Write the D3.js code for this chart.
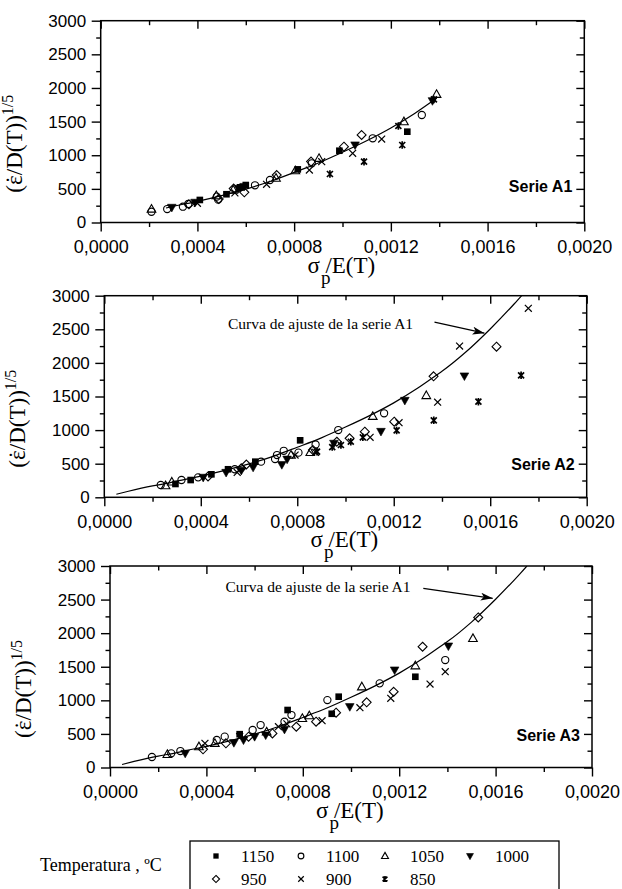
<!DOCTYPE html>
<html>
<head>
<meta charset="utf-8">
<script src="https://cdn.jsdelivr.net/npm/d3@7"></script>
<style>
  html, body { margin: 0; background: #fff; }
  svg { display: block; }
</style>
</head>
<body>
<script>
// ---- Temperatures (legend) ----
const temps = ["1150", "1100", "1050", "1000", "950", "900", "850"];

// ---- Axis ticks ----
const xMajor = [0, 0.0004, 0.0008, 0.0012, 0.0016, 0.0020];
const xMinor = [0.0002, 0.0006, 0.0010, 0.0014, 0.0018];
const yMajor = [0, 500, 1000, 1500, 2000, 2500, 3000];
const yMinor = [250, 750, 1250, 1750, 2250, 2750];
const serieLabels = ["Serie A1", "Serie A2", "Serie A3"];

// ---- Fit curve of series A1: [sigma_p/E(T), (eps/D(T))^(1/5)] ----
const fitCurve = [[0.00005, 45], [0.0001, 90], [0.0002, 170], [0.00027, 215], [0.0003, 240],
  [0.0004, 315], [0.0005, 400], [0.0006, 497], [0.0007, 610], [0.0008, 745], [0.0009, 885],
  [0.0010, 1045], [0.0011, 1215], [0.0012, 1405], [0.0013, 1625], [0.00139, 1850],
  [0.0014, 1875], [0.0015, 2165], [0.0016, 2505], [0.0017, 2880], [0.00173, 3000]];

// ---- Serie A1 ----
const A1_1150 = [[0.00041, 335], [0.00052, 420], [0.000576, 523], [0.0006, 557], [0.000815, 790], [0.000987, 1067], [0.001268, 1350]];
const A1_1100 = [[0.00021, 160], [0.000275, 200], [0.00034, 235], [0.000362, 275], [0.00048, 384], [0.000486, 340], [0.000638, 553], [0.0007, 632], [0.000873, 880], [0.001125, 1252], [0.001328, 1598]];
const A1_1050 = [[0.00021, 200], [0.000478, 400], [0.000548, 483], [0.000725, 660], [0.000805, 770], [0.000903, 954], [0.001254, 1499], [0.001389, 1906]];
const A1_1000 = [[0.000294, 225], [0.00039, 300], [0.00057, 505], [0.000593, 535], [0.001052, 1152], [0.001372, 1810]];
const A1_950 = [[0.000365, 270], [0.000488, 350], [0.00055, 505], [0.000594, 449], [0.000728, 706], [0.00087, 905], [0.001006, 1127], [0.001079, 1301]];
const A1_900 = [[0.0004, 285], [0.000555, 440], [0.000686, 568], [0.000863, 780], [0.000914, 904], [0.001042, 1029], [0.001162, 1241]];
const A1_850 = [[0.000948, 721], [0.001089, 904], [0.001231, 1435], [0.001247, 1152], [0.001378, 1830]];

// ---- Serie A2 ----
const A2_1150 = [[0.000295, 198], [0.000358, 257], [0.000444, 342], [0.000513, 417], [0.000626, 530], [0.000812, 848]];
const A2_1100 = [[0.000234, 183], [0.00032, 257], [0.000389, 297], [0.000541, 417], [0.00065, 530], [0.000708, 570], [0.000716, 629], [0.000744, 692], [0.000805, 664], [0.000876, 786], [0.00097, 1001], [0.00116, 1250]];
const A2_1050 = [[0.000254, 173], [0.00028, 228], [0.000774, 629], [0.000854, 668], [0.001113, 1205], [0.001335, 1515]];
const A2_1000 = [[0.00041, 297], [0.000505, 370], [0.000568, 400], [0.000617, 446], [0.000736, 486], [0.000758, 567], [0.000952, 803], [0.001147, 980], [0.001246, 1442], [0.001493, 1805]];
const A2_950 = [[0.00043, 310], [0.000568, 431], [0.000589, 488], [0.000865, 704], [0.000964, 827], [0.001017, 878], [0.00108, 977], [0.001202, 1125], [0.001365, 1800], [0.001626, 2241]];
const A2_900 = [[0.000551, 370], [0.000791, 629], [0.000876, 670], [0.001102, 893], [0.001222, 1110], [0.001382, 1415], [0.001473, 2251], [0.001758, 2812]];
const A2_850 = [[0.000882, 679], [0.000945, 748], [0.000981, 778], [0.001022, 827], [0.001072, 893], [0.001212, 995], [0.001366, 1145], [0.001551, 1423], [0.001728, 1815]];

// ---- Serie A3 ----
const A3_1150 = [[0.000538, 496], [0.000737, 856], [0.00092, 800], [0.000949, 1054], [0.001267, 1351]];
const A3_1100 = [[0.000174, 156], [0.000254, 211], [0.000292, 245], [0.000443, 409], [0.000476, 459], [0.000592, 558], [0.000625, 632], [0.000724, 682], [0.000753, 781], [0.000902, 1004], [0.001119, 1253], [0.001391, 1600]];
const A3_1050 = [[0.000238, 196], [0.000369, 310], [0.000435, 360], [0.00065, 530], [0.000798, 732], [0.000827, 771], [0.001045, 1202], [0.001267, 1515], [0.001506, 1922]];
const A3_1000 = [[0.000312, 211], [0.000514, 370], [0.000554, 409], [0.0006, 460], [0.000646, 483], [0.000724, 568], [0.000995, 905], [0.001181, 1451], [0.001404, 1808]];
const A3_950 = [[0.000386, 270], [0.000481, 360], [0.000575, 459], [0.000674, 508], [0.000773, 607], [0.000855, 682], [0.000938, 816], [0.001065, 970], [0.001177, 1128], [0.001297, 1798], [0.001528, 2235]];
const A3_900 = [[0.000394, 360], [0.000538, 460], [0.000699, 607], [0.000734, 650], [0.00088, 697], [0.001037, 890], [0.001165, 1030], [0.001328, 1242], [0.001391, 1426]];
const A3_850 = [];

// ---------------------------------------------------------------
const W = 622, H = 889;
const SANS = "'Liberation Sans', Arial, sans-serif";
const SERIF = "'Liberation Serif', 'Times New Roman', serif";

const svg = d3.select("body").append("svg")
  .attr("width", W).attr("height", H)
  .attr("viewBox", `0 0 ${W} ${H}`);

// marker shapes; size is the squared half-width
const shapes = {
  square: { draw(c, s) { const r = Math.sqrt(s); c.rect(-r, -r, 2 * r, 2 * r); } },
  circle: { draw(c, s) { const r = Math.sqrt(s); c.moveTo(r, 0); c.arc(0, 0, r, 0, 2 * Math.PI); } },
  triUp: { draw(c, s) { const r = Math.sqrt(s); c.moveTo(0, -r * 1.1); c.lineTo(r * 1.05, r * 0.75); c.lineTo(-r * 1.05, r * 0.75); c.closePath(); } },
  triDown: { draw(c, s) { const r = Math.sqrt(s); c.moveTo(0, r * 1.1); c.lineTo(r * 1.05, -r * 0.75); c.lineTo(-r * 1.05, -r * 0.75); c.closePath(); } },
  diamond: { draw(c, s) { const r = Math.sqrt(s); c.moveTo(0, -r); c.lineTo(r, 0); c.lineTo(0, r); c.lineTo(-r, 0); c.closePath(); } },
  cross: { draw(c, s) { const r = Math.sqrt(s); c.moveTo(-r, -r); c.lineTo(r, r); c.moveTo(-r, r); c.lineTo(r, -r); } },
  asterisk: { draw(c, s) { const r = Math.sqrt(s); const d = r * 0.8; c.moveTo(-d, -d); c.lineTo(d, d); c.moveTo(-d, d); c.lineTo(d, -d); c.moveTo(0, -r); c.lineTo(0, r); } }
};

// one style per temperature, in legend order
const styles = [
  { shape: "square", size: 11, fill: "#000", stroke: "none", sw: 0 },
  { shape: "circle", size: 13, fill: "none", stroke: "#000", sw: 1.1 },
  { shape: "triUp", size: 17, fill: "none", stroke: "#000", sw: 1.1 },
  { shape: "triDown", size: 17, fill: "#000", stroke: "#000", sw: 0.6 },
  { shape: "diamond", size: 20, fill: "none", stroke: "#000", sw: 1.1 },
  { shape: "cross", size: 12, fill: "none", stroke: "#000", sw: 1.2 },
  { shape: "asterisk", size: 14, fill: "none", stroke: "#000", sw: 1.7 }
];

function marker(g, k, cx, cy, scale) {
  const st = styles[k];
  g.append("path")
    .attr("d", d3.symbol().type(shapes[st.shape]).size(st.size * scale * scale)())
    .attr("transform", `translate(${cx},${cy})`)
    .attr("fill", st.fill)
    .attr("stroke", st.stroke)
    .attr("stroke-width", st.sw);
}

const fmtX = d => d3.format(".4f")(d).replace(".", ",");

const panels = [
  { left: 100.7, right: 584.3, top: 20.7, bottom: 222.5, label: serieLabels[0], labelUp: 31,
    series: [A1_1150, A1_1100, A1_1050, A1_1000, A1_950, A1_900, A1_850],
    curve: [0.00027, 0.00139], note: null },
  { left: 104.3, right: 586.7, top: 295.7, bottom: 497.3, label: serieLabels[1], labelUp: 27,
    series: [A2_1150, A2_1100, A2_1050, A2_1000, A2_950, A2_900, A2_850],
    curve: [0, 0.002], note: { tx: 0.000513, ty: 2504, from: [0.001369, 2606], to: [0.001576, 2442] } },
  { left: 110, right: 592, top: 566, bottom: 767.5, label: serieLabels[2], labelUp: 26.5,
    series: [A3_1150, A3_1100, A3_1050, A3_1000, A3_950, A3_900, A3_850],
    curve: [0, 0.002], note: { tx: 0.000479, ty: 2611, from: [0.0013, 2667], to: [0.001588, 2518] } }
];

const defs = svg.append("defs");
defs.append("marker")
  .attr("id", "arrowhead")
  .attr("viewBox", "0 0 12 8")
  .attr("refX", 12).attr("refY", 4)
  .attr("markerWidth", 12).attr("markerHeight", 8)
  .attr("markerUnits", "userSpaceOnUse")
  .attr("orient", "auto")
  .append("path").attr("d", "M0,0 L12,4 L0,8 L3,4 Z").attr("fill", "#000");

panels.forEach((p, i) => {
  const x = d3.scaleLinear().domain([0, 0.002]).range([p.left, p.right]);
  const y = d3.scaleLinear().domain([0, 3000]).range([p.bottom, p.top]);
  const g = svg.append("g");

  defs.append("clipPath").attr("id", `clip${i}`)
    .append("rect").attr("x", p.left).attr("y", p.top)
    .attr("width", p.right - p.left).attr("height", p.bottom - p.top);

  const styleAxis = sel => {
    sel.select(".domain").remove();
    sel.selectAll(".tick line").attr("stroke", "#000").attr("stroke-width", 1.4);
    sel.selectAll("text").attr("fill", "#000");
  };

  // bottom (outward ticks, labelled)
  g.append("g").attr("transform", `translate(0,${p.bottom})`)
    .call(d3.axisBottom(x).tickValues(xMajor).tickSize(9).tickSizeOuter(0).tickPadding(9).tickFormat(fmtX))
    .call(styleAxis)
    .call(s => s.selectAll("text").attr("font-family", SANS).attr("font-size", 18));
  g.append("g").attr("transform", `translate(0,${p.bottom})`)
    .call(d3.axisBottom(x).tickValues(xMinor).tickSize(4.5).tickSizeOuter(0).tickFormat(""))
    .call(styleAxis);
  // top (inward ticks)
  g.append("g").attr("transform", `translate(0,${p.top})`)
    .call(d3.axisBottom(x).tickValues(xMajor).tickSize(8).tickSizeOuter(0).tickFormat(""))
    .call(styleAxis);
  g.append("g").attr("transform", `translate(0,${p.top})`)
    .call(d3.axisBottom(x).tickValues(xMinor).tickSize(4.5).tickSizeOuter(0).tickFormat(""))
    .call(styleAxis);
  // left (outward ticks, labelled)
  g.append("g").attr("transform", `translate(${p.left},0)`)
    .call(d3.axisLeft(y).tickValues(yMajor).tickSize(9).tickSizeOuter(0).tickPadding(5.5).tickFormat(d3.format("d")))
    .call(styleAxis)
    .call(s => s.selectAll("text").attr("font-family", SANS).attr("font-size", 17));
  g.append("g").attr("transform", `translate(${p.left},0)`)
    .call(d3.axisLeft(y).tickValues(yMinor).tickSize(4.5).tickSizeOuter(0).tickFormat(""))
    .call(styleAxis);
  // right (inward ticks)
  g.append("g").attr("transform", `translate(${p.right},0)`)
    .call(d3.axisLeft(y).tickValues(yMajor).tickSize(8).tickSizeOuter(0).tickFormat(""))
    .call(styleAxis);
  g.append("g").attr("transform", `translate(${p.right},0)`)
    .call(d3.axisLeft(y).tickValues(yMinor).tickSize(4.5).tickSizeOuter(0).tickFormat(""))
    .call(styleAxis);

  // frame
  g.append("rect")
    .attr("x", p.left).attr("y", p.top)
    .attr("width", p.right - p.left).attr("height", p.bottom - p.top)
    .attr("fill", "none").attr("stroke", "#000").attr("stroke-width", 1.5);

  // fit curve
  const line = d3.line().x(d => x(d[0])).y(d => y(d[1])).curve(d3.curveMonotoneX);
  g.append("path")
    .datum(fitCurve.filter(d => d[0] >= p.curve[0] && d[0] <= p.curve[1]))
    .attr("d", line)
    .attr("clip-path", `url(#clip${i})`)
    .attr("fill", "none").attr("stroke", "#000").attr("stroke-width", 1.2);

  // data points
  const pts = g.append("g");
  p.series.forEach((arr, k) => {
    arr.forEach(d => marker(pts, k, x(d[0]), y(d[1]), 1));
  });

  // series label
  g.append("text")
    .attr("x", p.right - 12).attr("y", p.bottom - p.labelUp)
    .attr("text-anchor", "end")
    .attr("font-family", SANS).attr("font-weight", "bold").attr("font-size", 16)
    .text(p.label);

  // annotation pointing at the fit curve
  if (p.note) {
    g.append("text")
      .attr("x", x(p.note.tx)).attr("y", y(p.note.ty))
      .attr("font-family", SERIF).attr("font-size", 15.5)
      .text("Curva de ajuste de la serie A1");
    g.append("line")
      .attr("x1", x(p.note.from[0])).attr("y1", y(p.note.from[1]))
      .attr("x2", x(p.note.to[0])).attr("y2", y(p.note.to[1]))
      .attr("stroke", "#000").attr("stroke-width", 1.2)
      .attr("marker-end", "url(#arrowhead)");
  }

  // y title: (eps-dot / D(T))^(1/5)
  const cy = p.top + 123;
  const yt = g.append("text")
    .attr("transform", `translate(${p.left - 79},${cy}) rotate(-90)`)
    .attr("text-anchor", "middle")
    .attr("font-family", SERIF).attr("font-size", 23);
  yt.append("tspan").text("(\u03B5");
  yt.append("tspan").attr("dx", -8.5).text("\u02D9");
  yt.append("tspan").attr("dx", 1).text("/D(T))");
  yt.append("tspan").attr("font-size", 16).attr("dy", -9).text("1/5");

  // x title: sigma_p / E(T)
  const cx = (p.left + p.right) / 2;
  const xt = g.append("text").attr("x", cx - 35).attr("y", p.bottom + 50)
    .attr("font-family", SERIF).attr("font-size", 23);
  xt.append("tspan").text("\u03C3");
  xt.append("tspan").attr("font-size", 19).attr("dx", 1).attr("dy", 11).text("p");
  xt.append("tspan").attr("dx", -5).attr("dy", -11).text("/E(T)");
});

// ---- legend ----
const leg = svg.append("g");
leg.append("text").attr("x", 40).attr("y", 871)
  .attr("font-family", SERIF).attr("font-size", 18)
  .text("Temperatura , \u00BAC");
leg.append("rect").attr("x", 190).attr("y", 841).attr("width", 369).attr("height", 60)
  .attr("fill", "none").attr("stroke", "#000").attr("stroke-width", 1.3);
const legPos = [[216, 856], [301, 856], [385, 856], [470, 856], [216, 879], [301, 879], [385, 879]];
temps.forEach((t, k) => {
  const [lx, ly] = legPos[k];
  marker(leg, k, lx, ly, 0.8);
  leg.append("text").attr("x", lx + 25).attr("y", ly + 6)
    .attr("font-family", SERIF).attr("font-size", 17).text(t);
});
</script>
</body>
</html>
